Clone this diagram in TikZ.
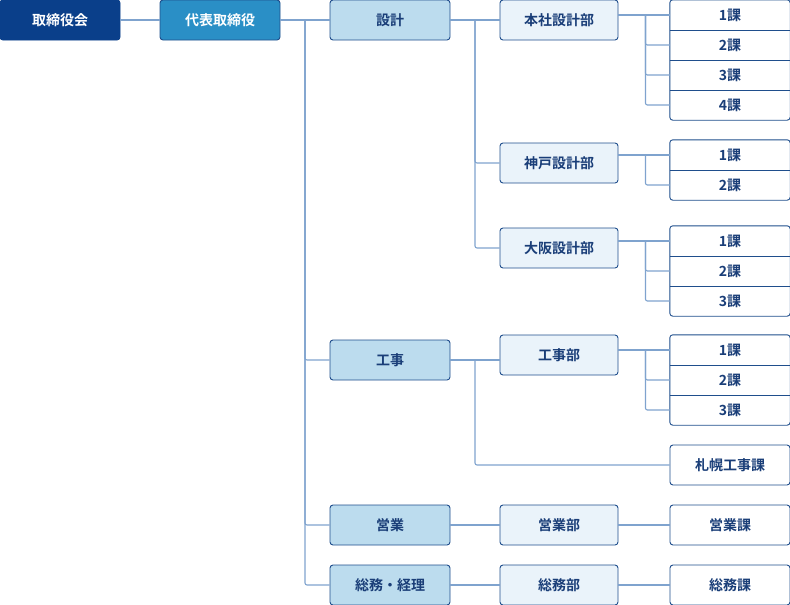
\documentclass[tikz,border=0pt]{standalone}
\usepackage{fontspec}
\setmainfont{Noto Sans CJK JP}[BoldFont={* Bold}]
\usetikzlibrary{fit}
\definecolor{navy}{HTML}{0A3F8A}
\definecolor{mid}{HTML}{2A8FC6}
\definecolor{lb}{HTML}{BCDCEE}
\definecolor{pale}{HTML}{EAF3FA}
\definecolor{bd}{HTML}{1F4E8C}
\definecolor{ln}{HTML}{7FA3CE}
\definecolor{tx}{HTML}{1A3E78}
\tikzset{
 box/.style={draw=bd,line width=0.9pt,rounded corners=3pt,minimum width=#1,minimum height=40pt,inner sep=0pt,font=\bfseries\fontsize{14}{14}\selectfont,text=tx},
 box/.default=120pt,
 top/.style={box,fill=navy,text=white,draw=navy},
 rep/.style={box,fill=mid,text=white},
 l2/.style={box,fill=lb},
 l3/.style={box=118pt,fill=pale},
 l4/.style={box,fill=white},
 row/.style={minimum width=120pt,minimum height=30pt,inner sep=0pt,font=\bfseries\fontsize{14}{14}\selectfont,text=tx},
 grp/.style={draw=bd,line width=0.9pt,rounded corners=3pt,inner sep=0pt},
 con/.style={draw=ln,line width=1.1pt,rounded corners=2pt},
}
\begin{document}
\begin{tikzpicture}[x=1pt,y=-1pt]
\useasboundingbox (0,0) rectangle (790,605);
\node[top] (a) at (60,20) {取締役会};
\node[rep] (b) at (220,20) {代表取締役};
\node[l2] (s) at (390,20) {設計};
\node[l2] (k) at (390,360) {工事};
\node[l2] (e) at (390,525) {営業};
\node[l2] (g) at (390,585) {総務・経理};
\node[l3] (h) at (559,20) {本社設計部};
\node[l3] (kb) at (559,163) {神戸設計部};
\node[l3] (o) at (559,248) {大阪設計部};
\node[l3] (kj) at (559,355) {工事部};
\node[l3] (eb) at (559,525) {営業部};
\node[l3] (gb) at (559,585) {総務部};
% rows
\foreach \n/\y/\t in {h1/15/1課,h2/45/2課,h3/75/3課,h4/105/4課,kb1/155/1課,kb2/185/2課,o1/241/1課,o2/271/2課,o3/301/3課,kj1/350/1課,kj2/380/2課,kj3/410/3課}
  \node[row] (\n) at (730,\y) {\t};
\node[grp,fit=(h1)(h4)] {};
\node[grp,fit=(kb1)(kb2)] {};
\node[grp,fit=(o1)(o3)] {};
\node[grp,fit=(kj1)(kj3)] {};
\foreach \p/\q in {h1/h2,h2/h3,h3/h4,kb1/kb2,o1/o2,o2/o3,kj1/kj2,kj2/kj3}
  \draw[bd,line width=0.9pt] (\p.south west) -- (\p.south east);
\node[l4] (sp) at (730,465) {札幌工事課};
\node[l4] (ek) at (730,525) {営業課};
\node[l4] (gk) at (730,585) {総務課};
% connectors
\draw[con] (a) -- (b);
\draw[con] (b) -- (s);
\coordinate (v1) at (305,20);
\draw[con] (v1) |- (k.west);
\draw[con] (v1) |- (e.west);
\draw[con] (v1) |- (g.west);
\draw[con] (s) -- (h);
\coordinate (v2) at (475,20);
\draw[con] (v2) |- (kb.west);
\draw[con] (v2) |- (o.west);
\draw[con] (k.east) -- (kj.west|-k.east);
\coordinate (v3) at (475,360);
\draw[con] (v3) |- (sp.west);
\draw[con] (e) -- (eb); \draw[con] (eb) -- (ek);
\draw[con] (g) -- (gb); \draw[con] (gb) -- (gk);
\foreach \src/\first/\rest in {h/h1/{h2,h3,h4},kb/kb1/{kb2},o/o1/{o2,o3},kj/kj1/{kj2,kj3}}{
  \draw[con] (\src.east|-\first) -- (\first.west);
  \coordinate (c) at ([xshift=27pt]\src.east|-\first);
  \foreach \r in \rest \draw[con] (c) |- (\r.west);
}
\end{tikzpicture}
\end{document}
